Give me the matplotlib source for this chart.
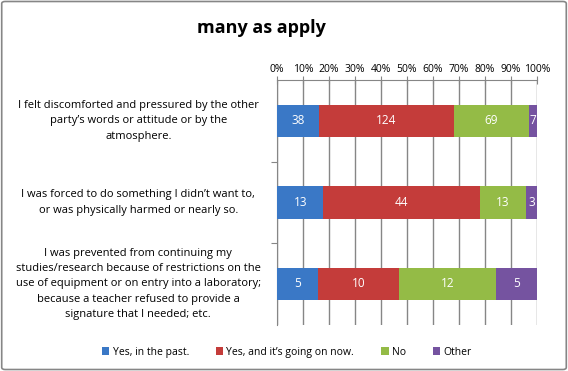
import numpy as np
import matplotlib
matplotlib.use("Agg")
import matplotlib.pyplot as plt
from matplotlib.patches import FancyBboxPatch

plt.rcParams['font.family'] = ['Open Sans', 'DejaVu Sans']

# data
categories = [
    "I felt discomforted and pressured by the other\nparty\u2019s words or attitude or by the\natmosphere.",
    "I was forced to do something I didn\u2019t want to,\nor was physically harmed or nearly so.",
    "I was prevented from continuing my\nstudies/research because of restrictions on the\nuse of equipment or on entry into a laboratory;\nbecause a teacher refused to provide a\nsignature that I needed; etc.",
]
series_names = ["Yes, in the past.", "Yes, and it\u2019s going on now.", "No", "Other"]
yes_past = [38, 13, 5]
yes_now = [124, 44, 10]
no = [69, 13, 12]
other = [7, 3, 5]
colors = ["#3A78C6", "#C43C3A", "#94BB46", "#7553A0"]
tick_labels = ["0%", "10%", "20%", "30%", "40%", "50%", "60%", "70%", "80%", "90%", "100%"]

counts = np.array([yes_past, yes_now, no, other], dtype=float)
totals = counts.sum(axis=0)
shares = counts / totals

fig = plt.figure(figsize=(5.68, 3.71), dpi=100)
fig.patches.append(FancyBboxPatch((0.003, 0.004), 0.994, 0.992, boxstyle="round,pad=0,rounding_size=0.006",
                                  transform=fig.transFigure, fill=False, edgecolor="#868686", lw=1.2))

ax = fig.add_axes([0.488, 0.125, 0.457, 0.659])
y = np.arange(len(categories))
left = np.zeros(len(categories))
for i, name in enumerate(series_names):
    bars = ax.barh(y, shares[i], left=left, height=0.4, color=colors[i], label=name, zorder=3)
    for j, b in enumerate(bars):
        ax.text(left[j] + shares[i][j] / 2, y[j], f"{int(counts[i][j])}", color="white",
                ha="center", va="center", fontsize=8.5, zorder=4)
    left += shares[i]

ax.set_xlim(0, 1)
ax.set_ylim(2.5, -0.5)
ax.set_xticks(np.linspace(0, 1, 11))
ax.set_xticklabels(tick_labels, fontsize=7.5)
ax.xaxis.tick_top()
ax.tick_params(axis='x', direction='inout', length=6, color="#868686", pad=1)
ax.grid(axis='x', color="#868686", lw=1, zorder=0)

ax.set_yticks([0.5, 1.5])
ax.set_yticklabels([])
ax.tick_params(axis='y', direction='out', length=4, color="#868686")
for s in ["right", "bottom"]:
    ax.spines[s].set_visible(False)
ax.spines["top"].set_color("#868686")
ax.spines["left"].set_color("#868686")

for j, cat in enumerate(categories):
    ax.text(-0.535, y[j], cat, transform=ax.get_yaxis_transform(), ha="center", va="center",
            fontsize=8, linespacing=1.55)

fig.text(0.46, 0.925, "many as apply", ha="center", va="center", fontsize=13, fontweight="bold")

fig.legend(loc="center", bbox_to_anchor=(0.505, 0.051), ncol=4, frameon=False, fontsize=7.5,
           handlelength=0.7, handleheight=0.7, handletextpad=0.3, columnspacing=2.6)

fig.savefig("out.png", dpi=100)
